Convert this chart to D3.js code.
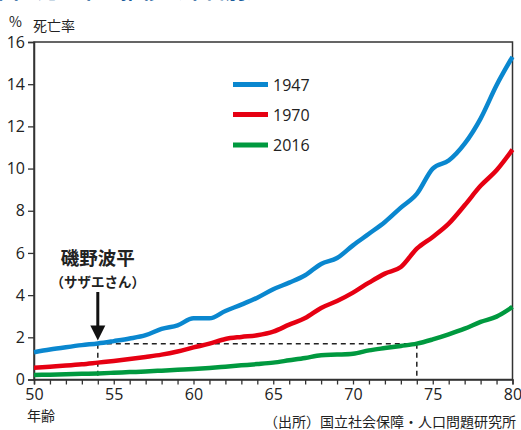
<!DOCTYPE html>
<html><head><meta charset="utf-8">
<script src="https://cdn.jsdelivr.net/npm/d3@7"></script>
<style>
body{margin:0;background:#fff;}
svg{display:block;font-family:"Noto Sans CJK JP","Noto Sans",sans-serif;}
</style></head>
<body><svg id="c" width="521" height="430"></svg>
<script>
const ages = [50,51,52,53,54,55,56,57,58,59,60,61,62,63,64,65,66,67,68,69,70,71,72,73,74,75,76,77,78,79,80];
const y1947 = [1.29,1.42,1.53,1.63,1.71,1.82,1.94,2.10,2.40,2.57,2.90,2.90,3.25,3.55,3.88,4.28,4.59,4.94,5.48,5.76,6.36,6.91,7.47,8.15,8.80,10.0,10.38,11.18,12.37,13.95,15.3];
const y1970 = [0.56,0.61,0.66,0.72,0.80,0.88,0.97,1.07,1.18,1.33,1.52,1.70,1.92,2.02,2.10,2.27,2.60,2.91,3.39,3.72,4.12,4.59,5.02,5.33,6.20,6.76,7.39,8.26,9.18,9.92,10.9];
const y2016 = [0.21,0.23,0.25,0.27,0.29,0.32,0.35,0.38,0.42,0.46,0.50,0.55,0.61,0.67,0.73,0.80,0.91,1.02,1.15,1.18,1.22,1.38,1.49,1.59,1.70,1.90,2.14,2.41,2.73,2.98,3.44];
const seriesNames = ["1947","1970","2016"];
const seriesColors = ["#0a87cf","#e60012","#00993f"];
const yTicks = [0,2,4,6,8,10,12,14,16];
const xTickLabels = [50,55,60,65,70,75,80];
const markerAge = 54, matchAge = 74;

const svg = d3.select("#c");
const x = d3.scaleLinear().domain([50,80]).range([34,512.5]);
const y = d3.scaleLinear().domain([0,16]).range([379.5,42]);
const axisColor = "#333";

// title (cut off at top, as in the reference)
svg.append("text").attr("x",-2).attr("y",-2).attr("font-size",21).attr("font-weight","bold")
  .attr("fill","#1b5d9b").text("図3 死亡率の推移（年代別）");

// frame
svg.append("rect").attr("x",x(50)).attr("y",y(16)).attr("width",x(80)-x(50)).attr("height",y(0)-y(16))
  .attr("fill","none").attr("stroke",axisColor).attr("stroke-width",1.5);

// y axis
const ya = svg.append("g").attr("transform",`translate(${x(50)},0)`)
  .call(d3.axisLeft(y).tickValues(yTicks).tickSize(6).tickPadding(3).tickFormat(d3.format("d")));
ya.select(".domain").attr("stroke",axisColor).attr("stroke-width",1.5);
ya.selectAll(".tick line").attr("stroke",axisColor).attr("stroke-width",1.3);
ya.selectAll("text").attr("font-size",16).attr("fill","#222").attr("font-family","'Open Sans','Noto Sans',sans-serif");

// x axis
const xa = svg.append("g").attr("transform",`translate(0,${y(0)})`)
  .call(d3.axisBottom(x).tickValues(d3.range(50,81)).tickSize(5).tickPadding(4)
    .tickFormat(d => xTickLabels.includes(d) ? d : ""));
xa.select(".domain").attr("stroke",axisColor).attr("stroke-width",1.5);
xa.selectAll(".tick line").attr("stroke",axisColor).attr("stroke-width",1.3);
xa.selectAll("text").attr("font-size",16).attr("fill","#222").attr("font-family","'Open Sans','Noto Sans',sans-serif");

// axis titles
svg.append("text").attr("x",9).attr("y",27).attr("font-size",14).attr("fill","#222").text("%");
svg.append("text").attr("x",33).attr("y",31).attr("font-size",14).attr("fill","#222").text("死亡率");
svg.append("text").attr("x",27).attr("y",421).attr("font-size",14).attr("fill","#222").text("年齢");
svg.append("text").attr("x",516).attr("y",427).attr("text-anchor","end").attr("font-size",14).attr("fill","#222").text("（出所）国立社会保障・人口問題研究所");

// dashed guides
const i54 = ages.indexOf(markerAge), i74 = ages.indexOf(matchAge);
const level = y2016[i74];
const dash = svg.append("g").attr("stroke","#222").attr("stroke-width",1.5).attr("stroke-dasharray","5,4").attr("fill","none");
dash.append("line").attr("x1",x(markerAge)).attr("x2",x(markerAge)).attr("y1",y(level)).attr("y2",y(0));
dash.append("line").attr("x1",x(markerAge)).attr("x2",x(matchAge)).attr("y1",y(level)).attr("y2",y(level));
dash.append("line").attr("x1",x(matchAge)).attr("x2",x(matchAge)).attr("y1",y(level)).attr("y2",y(0));

// lines
const data = [y1947,y1970,y2016];
const line = d3.line().x((d,i)=>x(ages[i])).y(d=>y(d)).curve(d3.curveMonotoneX);
data.forEach((s,k)=>{
  svg.append("path").datum(s).attr("d",line).attr("fill","none")
    .attr("stroke",seriesColors[k]).attr("stroke-width",4.5).attr("stroke-linejoin","round");
});

// legend
const legY = [84.5,114.5,145];
seriesNames.forEach((n,k)=>{
  svg.append("line").attr("x1",233).attr("x2",268).attr("y1",legY[k]).attr("y2",legY[k])
    .attr("stroke",seriesColors[k]).attr("stroke-width",5);
  svg.append("text").attr("x",273).attr("y",legY[k]+6).attr("font-size",16).attr("fill","#222")
    .attr("font-family","'Open Sans','Noto Sans',sans-serif").text(n);
});

// annotation
const ax = x(markerAge);
svg.append("text").attr("x",ax).attr("y",265).attr("text-anchor","middle").attr("font-size",18.5)
  .attr("font-weight","bold").attr("fill","#222").text("磯野波平");
svg.append("text").attr("x",ax).attr("y",287).attr("text-anchor","middle").attr("font-size",13.5)
  .attr("font-weight","bold").attr("fill","#222").text("（サザエさん）");
const tipY = y(y1947[i54]) - 3;
svg.append("line").attr("x1",ax).attr("x2",ax).attr("y1",292).attr("y2",tipY-12)
  .attr("stroke","#111").attr("stroke-width",3);
svg.append("path").attr("d",`M${ax-7.5},${tipY-15}L${ax+7.5},${tipY-15}L${ax},${tipY}Z`).attr("fill","#111");
</script></body></html>
